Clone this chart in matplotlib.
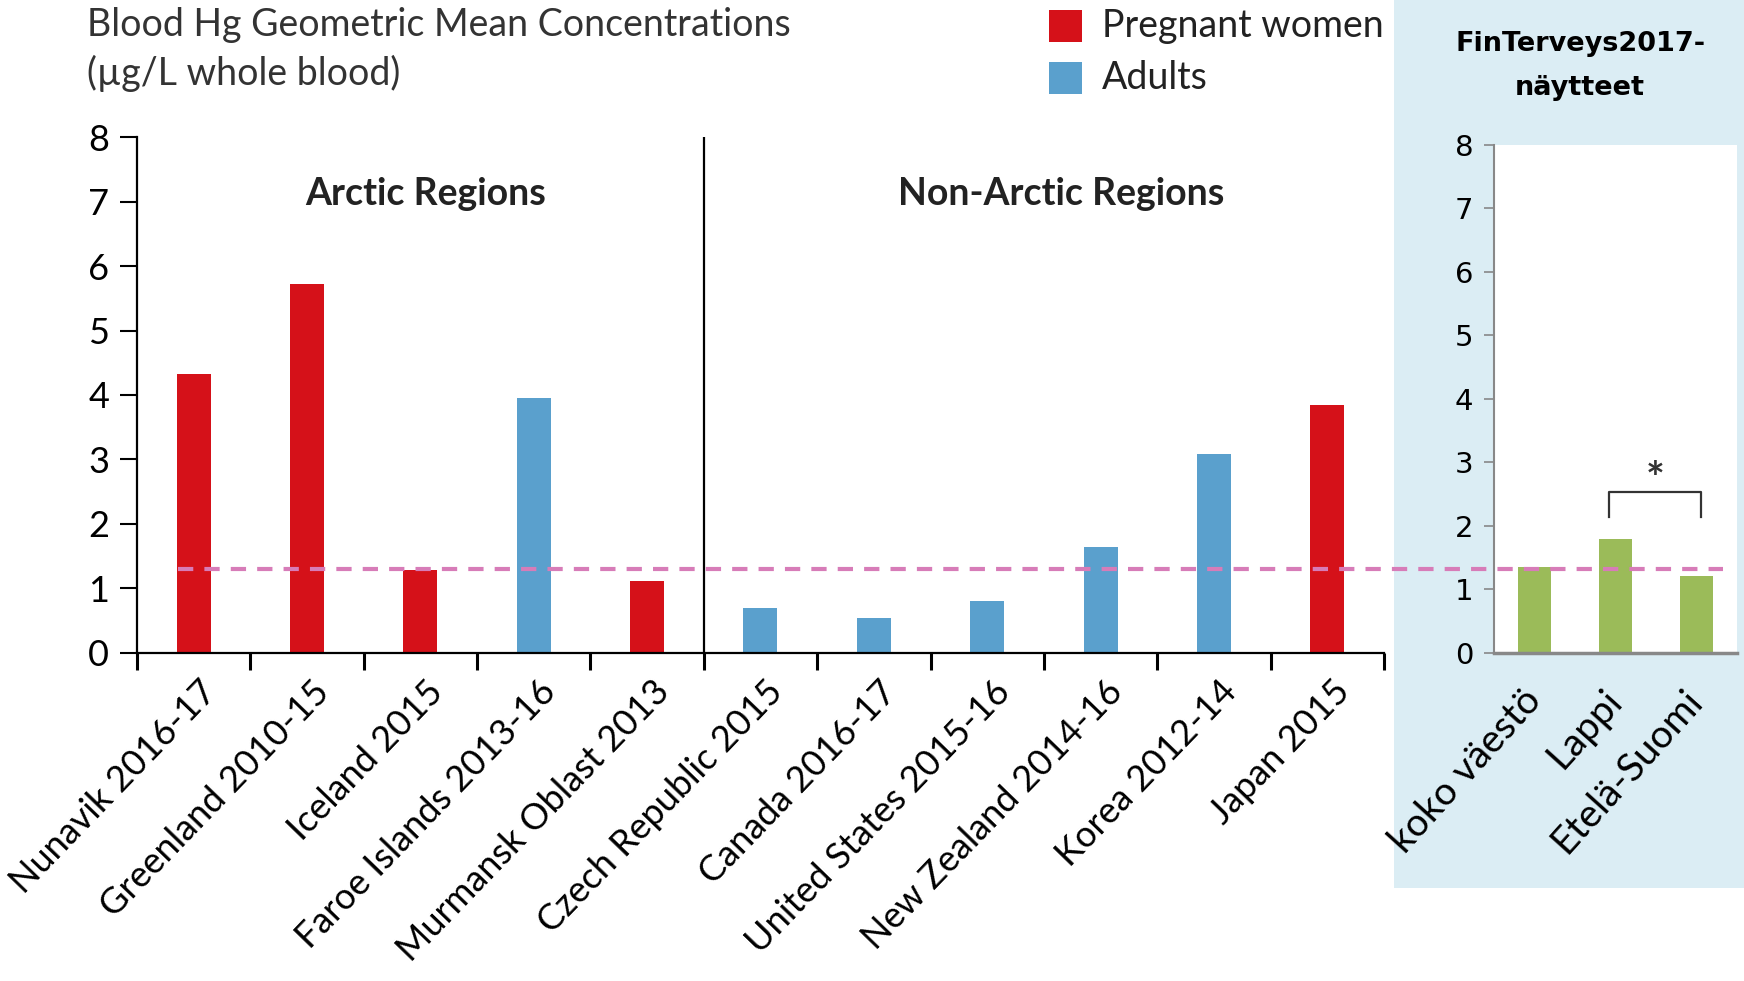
import matplotlib
matplotlib.use("Agg")
import matplotlib.pyplot as plt
from matplotlib.patches import Rectangle
from matplotlib.lines import Line2D
from matplotlib.transforms import blended_transform_factory, ScaledTranslation

plt.rcParams['font.family'] = ['Lato', 'DejaVu Sans']
plt.rcParams['lines.scale_dashes'] = False

# main chart data
regions = ["Nunavik 2016-17", "Greenland 2010-15", "Iceland 2015", "Faroe Islands 2013-16",
           "Murmansk Oblast 2013", "Czech Republic 2015", "Canada 2016-17", "United States 2015-16",
           "New Zealand 2014-16", "Korea 2012-14", "Japan 2015"]
hg_values = [4.32, 5.72, 1.28, 3.96, 1.12, 0.70, 0.54, 0.81, 1.64, 3.09, 3.85]
groups = ["Pregnant women", "Pregnant women", "Pregnant women", "Adults", "Pregnant women",
          "Adults", "Adults", "Adults", "Adults", "Adults", "Pregnant women"]
group_names = ["Pregnant women", "Adults"]
group_colors = {"Pregnant women": "#d51119", "Adults": "#5aa0cd"}
n_arctic = 5

# FinTerveys panel data
fin_labels = ["koko väestö", "Lappi", "Etelä-Suomi"]
fin_values = [1.35, 1.79, 1.21]
ref_level = 1.32  # koko väestö level drawn as dashed line

GREEN = "#9bbb59"
PINK = "#d77cb8"
PANEL_BG = "#dbedf4"

fig = plt.figure(figsize=(17.44, 9.81), dpi=100)

# light blue background behind the right panel
fig.patches.append(Rectangle((0.7995, 0.095), 0.2005, 0.905, transform=fig.transFigure,
                             facecolor=PANEL_BG, edgecolor='none', zorder=-1))

# ---- main chart ----
ax = fig.add_axes([0.0785, 0.3344, 0.7151, 0.5259])
xs = [i + 0.5 for i in range(len(regions))]
ax.bar(xs, hg_values, width=0.3, color=[group_colors[g] for g in groups], zorder=2)
ax.set_xlim(0, len(regions))
ax.set_ylim(0, 8)
ax.set_yticks(range(0, 9))
ax.tick_params(axis='y', direction='out', length=12, width=1.5, labelsize=26, pad=8)
ax.set_xticks(range(0, len(regions) + 1))
ax.set_xticklabels([])
ax.tick_params(axis='x', which='major', direction='out', length=12, width=2.2)
ax.set_xticks(xs, minor=True)
ax.set_xticklabels(regions, minor=True, rotation=46, ha='right', va='center',
                   rotation_mode='anchor', fontsize=26)
ax.tick_params(axis='x', which='minor', length=0, pad=24)
# labels sit a little right of the bar centres in the original
shift = ScaledTranslation(0.17, 0, fig.dpi_scale_trans)
for lab in ax.get_xticklabels(minor=True):
    lab.set_transform(lab.get_transform() + shift)
for s in ['top', 'right']:
    ax.spines[s].set_visible(False)
for s in ['left', 'bottom']:
    ax.spines[s].set_linewidth(1.6)
ax.axvline(n_arctic, color='black', lw=1.6, zorder=3)
ax.text(2.55, 7.12, "Arctic Regions", ha='center', va='center', fontsize=27, fontweight='bold',
        color='#222222')
ax.text(8.15, 7.12, "Non-Arctic Regions", ha='center', va='center',
        fontsize=27, fontweight='bold', color='#222222')

# title
fig.text(0.0499, 0.975, "Blood Hg Geometric Mean Concentrations", ha='left', va='center',
         fontsize=27, color='#333333')
fig.text(0.0499, 0.925, "(µg/L whole blood)", ha='left', va='center', fontsize=27, color='#333333')

# legend
for k, name in enumerate(group_names):
    y0 = 0.957 - k * 0.053
    fig.patches.append(Rectangle((0.6013, y0), 0.019, 0.033, transform=fig.transFigure,
                                 facecolor=group_colors[name], edgecolor='none'))
    fig.text(0.632, y0 + 0.0165, name, ha='left', va='center', fontsize=27, color='#222222')

# ---- FinTerveys panel ----
ax2 = fig.add_axes([0.8567, 0.3344, 0.1393, 0.5178])
ax2.bar(range(len(fin_labels)), fin_values, width=0.4, color=GREEN, zorder=2)
ax2.set_xlim(-0.5, len(fin_labels) - 0.5)
ax2.set_ylim(0, 8)
ax2.set_yticks(range(0, 9))
ax2.tick_params(axis='y', direction='out', length=7, width=1.2, color='#888888', labelsize=21, pad=8)
for lab in ax2.get_yticklabels():
    lab.set_family(['DejaVu Sans'])
ax2.set_xticks(range(len(fin_labels)))
ax2.set_xticklabels(fin_labels, rotation=48, ha='right', va='center', rotation_mode='anchor',
                    fontsize=28)
ax2.tick_params(axis='x', length=0, pad=30)
for s in ['top', 'right']:
    ax2.spines[s].set_visible(False)
ax2.spines['left'].set_color('#888888')
ax2.spines['left'].set_linewidth(1.5)
ax2.spines['bottom'].set_color('#888888')
ax2.spines['bottom'].set_linewidth(2.5)

# significance bracket between Lappi and Etelä-Suomi
ax2.plot([0.92, 0.92, 2.05, 2.05], [2.14, 2.53, 2.53, 2.14], color='#333333', lw=1.6, zorder=3)
ax2.text(1.49, 2.72, "*", ha='center', va='center', fontsize=32, fontweight='bold', color='#333333')

fig.text(0.906, 0.968, "FinTerveys2017-\nnäytteet", ha='center', va='top', fontsize=19.5,
         fontweight='bold', family=['DejaVu Sans'], linespacing=1.9)

# dashed reference line across both panels
line = Line2D([0.102, 0.988], [ref_level, ref_level],
              transform=blended_transform_factory(fig.transFigure, ax2.transData),
              color=PINK, lw=3, dashes=(11, 8), zorder=5)
fig.add_artist(line)

fig.savefig("out.png", dpi=100)
